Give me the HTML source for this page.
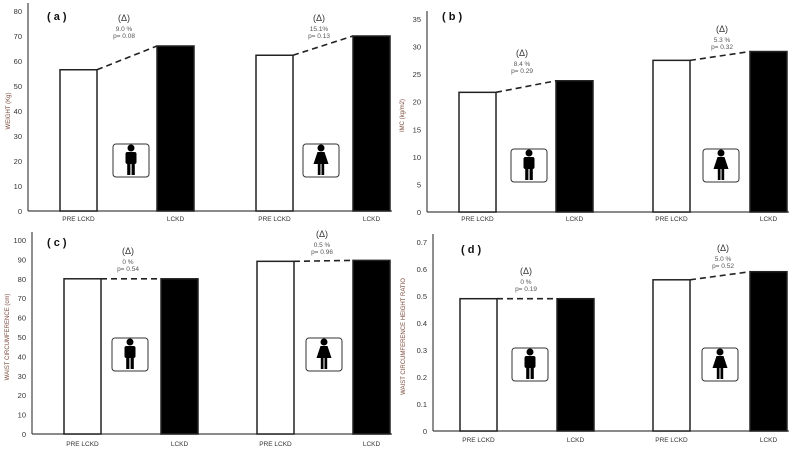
<!DOCTYPE html>
<html><head><meta charset="utf-8"><style>
html,body{margin:0;padding:0;background:#fff;}
svg{display:block;font-family:"Liberation Sans",sans-serif;}
</style></head><body>
<svg id="chart" width="792" height="451" viewBox="0 0 792 451"></svg>
<script>
const categories = ["PRE LCKD","LCKD","PRE LCKD","LCKD"];
const weightValues = [56.5, 66, 62.3, 70];
const imcValues = [21.7, 23.8, 27.5, 29.1];
const waistValues = [80, 80, 89, 89.5];
const ratioValues = [0.49, 0.49, 0.56, 0.59];
const weightTicks = ["0","10","20","30","40","50","60","70","80"];
const imcTicks = ["0","5","10","15","20","25","30","35"];
const waistTicks = ["0","10","20","30","40","50","60","70","80","90","100"];
const ratioTicks = ["0","0.1","0.2","0.3","0.4","0.5","0.6","0.7"];
const weightNotes = [["9.0 %","p= 0.08"],["15.1%","p= 0.13"]];
const imcNotes = [["8.4 %","p= 0.29"],["5.3 %","p= 0.32"]];
const waistNotes = [["0 %","p= 0.54"],["0.5 %","p= 0.96"]];
const ratioNotes = [["0 %","p= 0.19"],["5.0  %","p= 0.52"]];

const NS="http://www.w3.org/2000/svg";
const svg=document.getElementById('chart');
function mk(tag,attrs,parent,text){const e=document.createElementNS(NS,tag);for(const k in attrs)e.setAttribute(k,attrs[k]);if(text!==undefined)e.textContent=text;(parent||svg).appendChild(e);return e;}

const panels=[
 {id:'a',ax:28,base:211,top:11,max:80,ticks:weightTicks,vals:weightValues,notes:weightNotes,title:"WEIGHT (Kg)",tx:8,
  bars:[60,157,256,353],bw:37,xl:221,lab:[47,15],icons:[[113,144],[303,144]],noteY:[[124,17],[319,17]]},
 {id:'b',ax:427,base:212,top:19,max:35,ticks:imcTicks,vals:imcValues,notes:imcNotes,title:"IMC (kg/m2)",tx:402,
  bars:[459,556,653,750],bw:37,xl:221,lab:[442,15],icons:[[511,149],[703,149]],noteY:[[522,52],[722,28]]},
 {id:'c',ax:32,base:434,top:240,max:100,ticks:waistTicks,vals:waistValues,notes:waistNotes,title:"WAIST CIRCUMFERENCE (cm)",tx:7,
  bars:[64,161,257,353],bw:37,xl:446,lab:[47,241],icons:[[112,338],[306,338]],noteY:[[128,250],[322,233]]},
 {id:'d',ax:433,base:431,top:242,max:0.7,ticks:ratioTicks,vals:ratioValues,notes:ratioNotes,title:"WAIST CIRCUMFERENCE HEIGHT RATIO",tx:403,
  bars:[460,557,653,750],bw:37,xl:442,lab:[461,248],icons:[[512,348],[702,348]],noteY:[[526,270],[723,247]]}
];

function maleIcon(g,cx,cy){
  mk('circle',{cx:cx,cy:cy-11,r:3.5,fill:'#000'},g);
  mk('rect',{x:cx-5.5,y:cy-7,width:11,height:12,rx:2,fill:'#000'},g);
  mk('rect',{x:cx-3.8,y:cy+4,width:3.2,height:12,fill:'#000'},g);
  mk('rect',{x:cx+0.6,y:cy+4,width:3.2,height:12,fill:'#000'},g);
}
function femaleIcon(g,cx,cy){
  mk('circle',{cx:cx,cy:cy-11,r:3.5,fill:'#000'},g);
  mk('polygon',{points:`${cx-3.5},${cy-7} ${cx+3.5},${cy-7} ${cx+7.5},${cy+5} ${cx-7.5},${cy+5}`,fill:'#000'},g);
  mk('rect',{x:cx-3.2,y:cy+4,width:2.7,height:12,fill:'#000'},g);
  mk('rect',{x:cx+0.5,y:cy+4,width:2.7,height:12,fill:'#000'},g);
}

panels.forEach(p=>{
  const g=mk('g',{});
  
  
  const y=v=>p.base-(v/p.max)*(p.base-p.top);
  const ya=mk('line',{x1:p.ax,y1:p.top-8,x2:p.ax,y2:p.base,stroke:'#444','stroke-width':1.2},g);
  
  
  const xa=mk('line',{x1:p.ax,y1:p.base,x2:p.bars[3]+p.bw+2,y2:p.base,stroke:'#444','stroke-width':1.2},g);
  
  
  const step=p.max/(p.ticks.length-1);
  p.ticks.forEach((t,i)=>{
    const tl=mk('text',{x:p.ax-6,y:y(i*step)+3,'text-anchor':'end','font-size':7.5,fill:'#333'},g,t);
    
    
  });
  const tt=mk('text',{x:p.tx,y:(p.top+p.base)/2,'text-anchor':'middle','font-size':6,fill:'#7a4a3a',transform:`rotate(-90 ${p.tx} ${(p.top+p.base)/2})`,dy:2},g,p.title);
  
  
  const pl=mk('text',{x:p.lab[0],y:p.lab[1]+5,'font-size':11,'font-weight':'bold',fill:'#111'},g,'( '+p.id+' )');
  
  
  p.vals.forEach((v,i)=>{
    const b=mk('rect',{x:p.bars[i],y:y(v),width:p.bw,height:p.base-y(v),fill:i%2?'#000':'#fff',stroke:'#222','stroke-width':1.5},g);
    
    
    const xl=mk('text',{x:p.bars[i]+p.bw/2,y:p.xl,'text-anchor':'middle','font-size':6.5,fill:'#333'},g,categories[i]);
    
    
  });
  for(let k=0;k<2;k++){
    const a=p.vals[2*k],b=p.vals[2*k+1];
    const dl=mk('line',{x1:p.bars[2*k]+p.bw,y1:y(a),x2:p.bars[2*k+1],y2:y(b),stroke:'#222','stroke-width':1.6,'stroke-dasharray':'6,4'},g);
    
    
    const [nx,ny]=p.noteY[k];
    const d=mk('text',{x:nx,y:ny+4,'text-anchor':'middle','font-size':9,fill:'#333'},g,'(Δ)');
    
    
    const n1=mk('text',{x:nx,y:ny+14,'text-anchor':'middle','font-size':6.5,fill:'#555'},g,p.notes[k][0]);
    
    
    const n2=mk('text',{x:nx,y:ny+21,'text-anchor':'middle','font-size':6.5,fill:'#555'},g,p.notes[k][1]);
    
    
    const [ix,iy]=p.icons[k];
    const ig=mk('g',{},g);
    
    
    mk('rect',{x:ix,y:iy,width:36,height:33,rx:3,fill:'#fff',stroke:'#333','stroke-width':1},ig);
    (k?femaleIcon:maleIcon)(ig,ix+18,iy+15);
  }
});
</script>
</body></html>
